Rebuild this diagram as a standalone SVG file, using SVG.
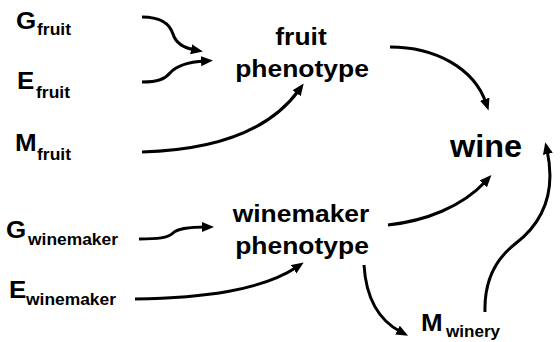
<svg xmlns="http://www.w3.org/2000/svg" width="560" height="342" viewBox="0 0 560 342">
<style>
text{font-family:"Liberation Sans",Arial,sans-serif;font-weight:bold;fill:#000}
.m{font-size:24px}
.s{font-size:16px}
.l{font-size:23px;text-anchor:middle}
.w{font-size:31px}
.c{fill:none;stroke:#000;stroke-width:3;marker-end:url(#ah)}
</style>
<defs>
<marker id="ah" markerUnits="userSpaceOnUse" markerWidth="14" markerHeight="12" refX="4" refY="5" orient="auto">
<path d="M0,0 L12,5 L0,10 Z" fill="#000"/>
</marker>
</defs>
<rect width="560" height="342" fill="#fff"/>
<g id="connectors">
<path class="c" d="M142,17 C163,17 170,25 173,34 C176,44 184,48 195,50"/>
<path class="c" d="M142,82 C158,82 165,79 170,73 C176,66 188,62 205,61"/>
<path class="c" d="M142,152 C215,150 270,130 299,90"/>
<path class="c" d="M390,47 C435,47 474,68 486,103"/>
<path class="c" d="M388,225 C425,221 462,207 486,181"/>
<path class="c" d="M485,312 C484,278 497,258 515,244 C536,228 558,200 547,150"/>
<path class="c" d="M364,265 C366,298 378,320 401,332"/>
<path class="c" d="M139,239 C158,239 168,238 173,233 C178,228 190,227 206,227"/>
<path class="c" d="M135,299 C205,298 262,290 297,267"/>
</g>
<g id="G_fruit"><text class="m" x="16" y="29" textLength="20.2" lengthAdjust="spacingAndGlyphs">G</text><text class="s" x="37" y="35" textLength="34" lengthAdjust="spacingAndGlyphs">fruit</text></g>
<g id="E_fruit"><text class="m" x="17" y="89" textLength="17.3" lengthAdjust="spacingAndGlyphs">E</text><text class="s" x="36" y="98" textLength="34" lengthAdjust="spacingAndGlyphs">fruit</text></g>
<g id="M_fruit"><text class="m" x="15" y="151" textLength="21.6" lengthAdjust="spacingAndGlyphs">M</text><text class="s" x="37" y="160" textLength="34" lengthAdjust="spacingAndGlyphs">fruit</text></g>
<g id="fruit_phenotype"><text class="l" x="301" y="45" textLength="51.4" lengthAdjust="spacingAndGlyphs">fruit</text><text class="l" x="302" y="77" textLength="133.7" lengthAdjust="spacingAndGlyphs">phenotype</text></g>
<g id="wine"><text class="w" x="450" y="157" textLength="72" lengthAdjust="spacingAndGlyphs">wine</text></g>
<g id="G_winemaker"><text class="m" x="6" y="238" textLength="20.2" lengthAdjust="spacingAndGlyphs">G</text><text class="s" x="28" y="245" textLength="90" lengthAdjust="spacingAndGlyphs">winemaker</text></g>
<g id="winemaker_phenotype"><text class="l" x="301" y="222" textLength="136.7" lengthAdjust="spacingAndGlyphs">winemaker</text><text class="l" x="302" y="254" textLength="133.7" lengthAdjust="spacingAndGlyphs">phenotype</text></g>
<g id="E_winemaker"><text class="m" x="9" y="298" textLength="17.3" lengthAdjust="spacingAndGlyphs">E</text><text class="s" x="26" y="305" textLength="90" lengthAdjust="spacingAndGlyphs">winemaker</text></g>
<g id="M_winery"><text class="m" x="421" y="331" textLength="21.6" lengthAdjust="spacingAndGlyphs">M</text><text class="s" x="446" y="337" textLength="54" lengthAdjust="spacingAndGlyphs">winery</text></g>
</svg>
